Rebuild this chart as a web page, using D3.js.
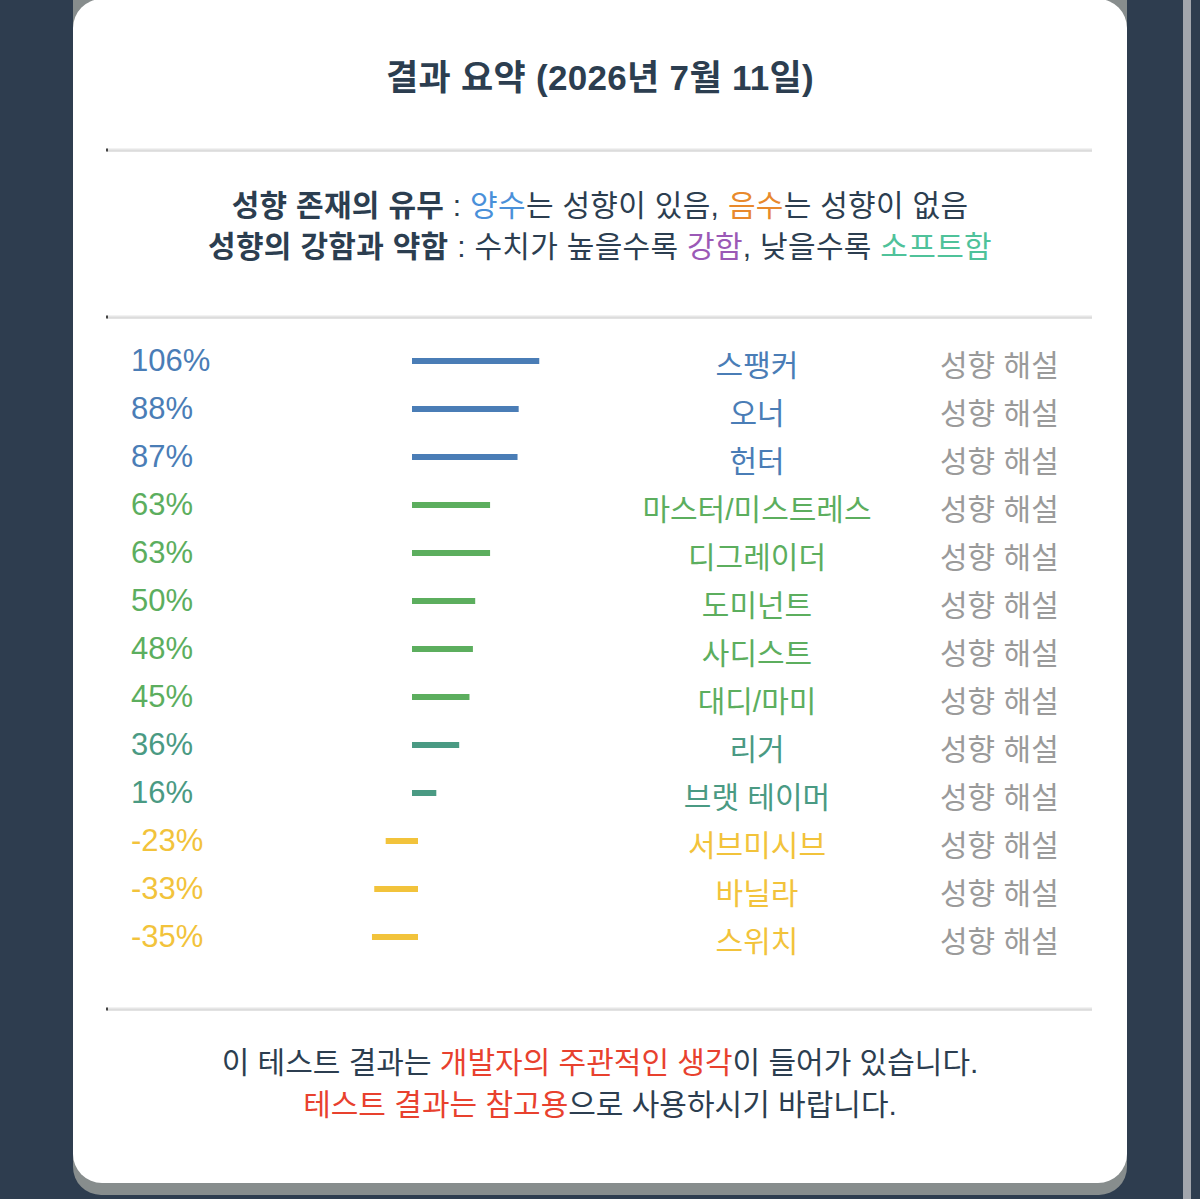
<!DOCTYPE html>
<html>
<head>
<meta charset="utf-8">
<script src="https://cdn.jsdelivr.net/npm/d3@7"></script>
<style>
  html, body { margin: 0; padding: 0; background: #2e3d4f; }
  svg { display: block; }
  text { font-family: "Liberation Sans", Arial, "Noto Sans CJK KR", sans-serif; }
</style>
</head>
<body>
<div id="chart"></div>
<script>
// Data
var names = ["스팽커", "오너", "헌터", "마스터/미스트레스", "디그레이더", "도미넌트",
             "사디스트", "대디/마미", "리거", "브랫 테이머", "서브미시브", "바닐라", "스위치"];
var values = [106, 88, 87, 63, 63, 50, 48, 45, 36, 16, -23, -33, -35];
var linkLabel = "성향 해설";
var title = "결과 요약 (2026년 7월 11일)";

var svgWidth = 1200;
var svgHeight = 1199;

var svg = d3.select("#chart")
  .append("svg")
  .attr("width", svgWidth)
  .attr("height", svgHeight);

// background + scroll strip
svg.append("rect").attr("width", svgWidth).attr("height", svgHeight).attr("fill", "#2e3d4f");
svg.append("rect").attr("x", 1183).attr("y", 0).attr("width", 8).attr("height", svgHeight).attr("fill", "#a2a6ad");

// card with shadow
svg.append("rect")
  .attr("x", 73).attr("y", -40).attr("width", 1054).attr("height", 1235)
  .attr("rx", 28).attr("fill", "#878d8d");
svg.append("rect")
  .attr("x", 73).attr("y", -1).attr("width", 1054).attr("height", 1184)
  .attr("rx", 29).attr("fill", "#ffffff");

var cx = 600;
var dark = "#2c3e50";

// title
svg.append("text")
  .attr("x", cx).attr("y", 90)
  .attr("text-anchor", "middle")
  .attr("font-size", 35).attr("font-weight", "bold")
  .attr("letter-spacing", 0.3)
  .attr("fill", dark)
  .text(title);

// dividers
function divider(y) {
  svg.append("line").attr("x1", 107).attr("x2", 1092).attr("y1", y).attr("y2", y)
    .attr("stroke", "#e6e6e6").attr("stroke-width", 3);
  svg.append("line").attr("x1", 107).attr("x2", 1092).attr("y1", y + 1).attr("y2", y + 1)
    .attr("stroke", "#d2d2d2").attr("stroke-width", 1);
  svg.append("rect").attr("x", 106).attr("y", y - 1.5).attr("width", 2).attr("height", 3).attr("fill", "#444");
}
divider(150);
divider(317);
divider(1009);

// mixed-colour centred line
function richLine(y, parts, size, spacing) {
  var t = svg.append("text")
    .attr("x", cx).attr("y", y)
    .attr("text-anchor", "middle")
    .attr("font-size", size)
    .attr("letter-spacing", spacing || 0)
    .attr("fill", dark);
  parts.forEach(function(p) {
    t.append("tspan")
      .attr("fill", p[1] || dark)
      .attr("font-weight", p[2] ? "bold" : "normal")
      .text(p[0]);
  });
}

richLine(216, [["성향 존재의 유무", null, true], [" : "], ["양수", "#4a90d9"], ["는 성향이 있음, "],
               ["음수", "#e8892c"], ["는 성향이 없음"]], 30, 0.3);
richLine(257, [["성향의 강함과 약함", null, true], [" : 수치가 높을수록 "], ["강함", "#9b59b6"],
               [", 낮을수록 "], ["소프트함", "#4fc29a"]], 30, 0.3);

// scales
var yScale = d3.scalePoint()
  .domain(names)
  .range([361, 937]);

var xScale = d3.scaleLinear()
  .domain([0, 100])
  .range([415, 529.4]);

var color = d3.scaleThreshold()
  .domain([0, 40, 80])
  .range(["#f2c33b", "#4a9a83", "#5cae5e", "#4a7db6"]);

var rows = svg.append("g").selectAll("g")
  .data(names)
  .enter()
  .append("g");

// value labels
rows.append("text")
  .attr("x", 131)
  .attr("y", function(d) { return yScale(d) + 10; })
  .attr("font-size", 31)
  .attr("fill", function(d, i) { return color(values[i]); })
  .text(function(d, i) { return values[i] + "%"; });

// bars
rows.append("line")
  .attr("x1", xScale(0))
  .attr("x2", function(d, i) { return xScale(values[i]); })
  .attr("y1", function(d) { return yScale(d); })
  .attr("y2", function(d) { return yScale(d); })
  .attr("stroke", function(d, i) { return color(values[i]); })
  .attr("stroke-width", 6)
  .attr("stroke-linecap", "square");

// names
rows.append("text")
  .attr("x", 757)
  .attr("y", function(d) { return yScale(d) + 15; })
  .attr("text-anchor", "middle")
  .attr("font-size", 30)
  .attr("fill", function(d, i) { return color(values[i]); })
  .text(function(d) { return d; });

// links
rows.append("text")
  .attr("x", 940)
  .attr("y", function(d) { return yScale(d) + 15; })
  .attr("font-size", 30)
  .attr("fill", "#9a9a9a")
  .text(linkLabel);

// footer
richLine(1073, [["이 테스트 결과는 "], ["개발자의 주관적인 생각", "#e8412e"], ["이 들어가 있습니다."]], 30, 0);
richLine(1115, [["테스트 결과는 참고용", "#e8412e"], ["으로 사용하시기 바랍니다."]], 30, 0);
</script>
</body>
</html>
